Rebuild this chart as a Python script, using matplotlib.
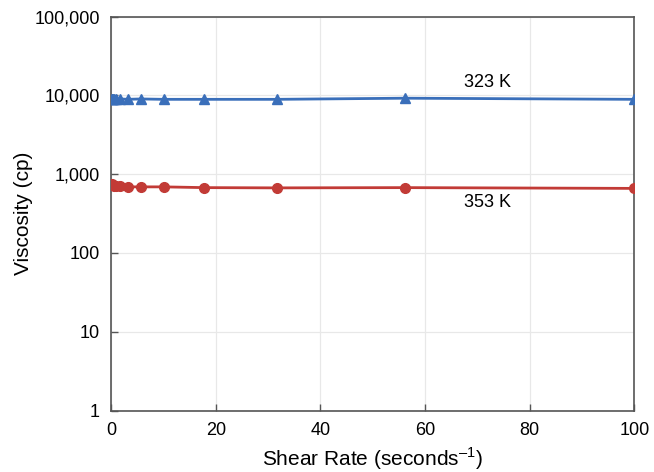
import numpy as np
import matplotlib.pyplot as plt
from matplotlib.ticker import FixedLocator, FuncFormatter

plt.rcParams['font.family'] = ['Liberation Sans', 'DejaVu Sans']
plt.rcParams['mathtext.fontset'] = 'custom'
plt.rcParams['mathtext.rm'] = 'Liberation Sans'

# shear rate points (1/s), same for both temperatures
shear = [0.1, 0.18, 0.32, 0.56, 1.0, 1.78, 3.16, 5.62, 10.0, 17.8, 31.6, 56.2, 100.0]
visc_323 = [9000, 9100, 9100, 9000, 9000, 9000, 8900, 9000, 8900, 8900, 8900, 9200, 8900]
visc_353 = [740, 730, 720, 715, 705, 700, 690, 690, 690, 675, 670, 675, 660]

yticks = [1, 10, 100, 1000, 10000, 100000]
xticks = [0, 20, 40, 60, 80, 100]

blue = '#3a6fba'
red = '#c23b36'

fig, ax = plt.subplots(figsize=(6.54, 4.72), dpi=100)
ax.plot(shear, visc_323, color=blue, lw=2, marker='^', ms=7, zorder=3)
ax.plot(shear, visc_353, color=red, lw=2, marker='o', ms=7, zorder=3)

ax.set_yscale('log')
ax.set_xlim(0, 100)
ax.set_ylim(1, 100000)
ax.yaxis.set_major_locator(FixedLocator(yticks))
ax.yaxis.set_minor_locator(FixedLocator([]))
ax.yaxis.set_major_formatter(FuncFormatter(lambda v, p: f'{int(round(v)):,}'))
ax.set_xticks(xticks)

ax.grid(True, color='#e8e8e8', lw=0.9)
ax.set_axisbelow(True)
for s in ax.spines.values():
    s.set_color('#555555')
    s.set_linewidth(1.2)
ax.tick_params(axis='both', direction='in', length=5, width=1, color='#555555',
               labelsize=13, pad=8)

ax.text(67.5, 11500, '323 K', fontsize=13, ha='left', va='bottom')
ax.text(67.5, 560, '353 K', fontsize=13, ha='left', va='top')

ax.set_xlabel('Shear Rate (seconds$^{\\mathregular{\u20131}}$)', fontsize=15, labelpad=5)
ax.set_ylabel('Viscosity (cp)', fontsize=15, labelpad=1)

plt.subplots_adjust(left=0.17, right=0.97, top=0.965, bottom=0.13)
fig.savefig('out.png', dpi=100)
